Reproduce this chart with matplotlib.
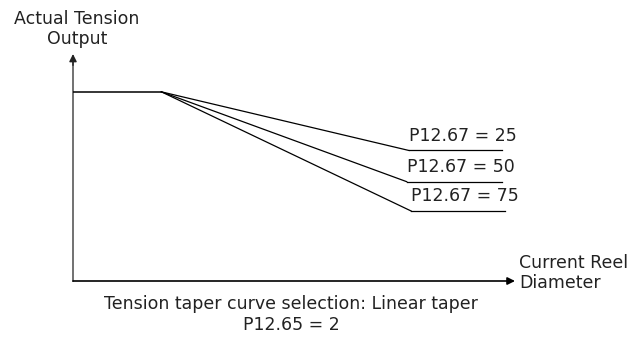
import matplotlib
matplotlib.use("Agg")
from matplotlib import pyplot as plt

# flat tension section, then linear taper to three end points
flat_x = (0, 20)
flat_y = 100
taper_end_x = (76, 75.5, 76.5)
taper_end_y = (69, 52.5, 37)
label_end_x = (97, 97, 97.7)
taper_labels = ("P12.67 = 25", "P12.67 = 50", "P12.67 = 75")

plt.rcParams["font.family"] = ["DejaVu Sans"]
fs = 12.5

fig = plt.figure(figsize=(6.34, 3.39), dpi=100)
ax = fig.add_axes((73 / 634, 58 / 339, 442 / 634, 227 / 339))
ax.set_xlim(0, 100)
ax.set_ylim(0, 120)
ax.axis("off")

# y axis: gray stem, dark head
ax.plot((0, 0), (0, 0.97), transform=ax.transAxes, color="#666666", lw=1.3,
        clip_on=False)
ax.annotate("", xy=(0, 1), xytext=(0, 0.95), xycoords="axes fraction",
            arrowprops=dict(arrowstyle="-|>", color="#222222", lw=1.0,
                            mutation_scale=11, shrinkA=0, shrinkB=0))
# x axis
ax.annotate("", xy=(1, 0), xytext=(0, 0), xycoords="axes fraction",
            arrowprops=dict(arrowstyle="-|>", color="black", lw=1.2,
                            mutation_scale=11, shrinkA=0, shrinkB=0))

ax.plot(flat_x, (flat_y, flat_y), color="black", lw=1.1)
for ex, ey, lx, lab in zip(taper_end_x, taper_end_y, label_end_x, taper_labels):
    ax.plot((flat_x[1], ex), (flat_y, ey), color="black", lw=0.9)
    ax.plot((ex, lx), (ey, ey), color="black", lw=0.9)
    ax.annotate(lab, xy=(ex, ey), xytext=(0, 4), textcoords="offset points",
                ha="left", va="bottom", fontsize=fs, color="#222222")

fig.text(77 / 634, 1 - 44 / 339, "Actual Tension\nOutput", ha="center",
         va="baseline", fontsize=fs, color="#222222", linespacing=1.15)
fig.text(519 / 634, 1 - 288 / 339, "Current Reel\nDiameter", ha="left",
         va="baseline", fontsize=fs, color="#222222", linespacing=1.15)
fig.text(291 / 634, 1 - 330 / 339,
         "Tension taper curve selection: Linear taper\nP12.65 = 2",
         ha="center", va="baseline", fontsize=fs, color="#222222",
         linespacing=1.2)

fig.savefig("out.png", dpi=100)
